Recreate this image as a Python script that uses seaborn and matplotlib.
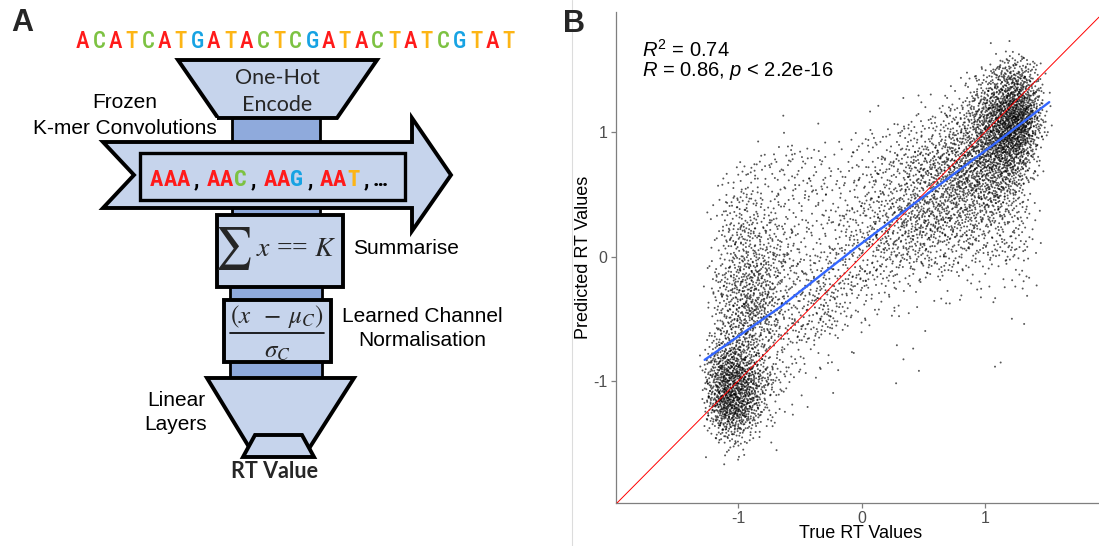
import numpy as np
import pandas as pd
import matplotlib
matplotlib.use("Agg")
import matplotlib.pyplot as plt
import seaborn as sns
from matplotlib.patches import Polygon, Rectangle
from matplotlib.lines import Line2D
from matplotlib import font_manager as fm

# ---------------- data ----------------
dna_sequence = "ACATCATGATACTCGATACTATCGTAT"
kmer_words = ["AAA", "AAC", "AAG", "AAT"]
base_colours = {"A": "#FF1A1A", "C": "#7DC242", "G": "#17A3E3", "T": "#FDB515"}

# Panel B: point density, one digit per 0.1 x 0.1 cell
# (columns: true RT -1.35 .. 1.55, rows: predicted RT 1.8 down to -1.8)
density_x_start = -1.35
density_y_start = 1.8
density_cell = 0.1
density_rows = [
    "0000000000 0000000000 000000000",
    "0000000000 0000000000 000012100",
    "0000000000 0000000000 000134420",
    "0000000000 0000000000 012356640",
    "0000000000 0000000000 113467751",
    "0000000000 0000000111 224678861",
    "0000000100 0001011122 335689962",
    "0000000001 0001112223 345789962",
    "0000000111 1111222333 456789851",
    "0000111221 1112223344 556788740",
    "0001222222 2122233445 566777630",
    "0012222222 2222333455 666666520",
    "0122322222 2222333445 566665410",
    "0123322222 2223334455 555554310",
    "0123333222 2233344555 555444310",
    "0134433222 2233444555 444443310",
    "0134433322 2233444444 444333310",
    "0134444322 2333344443 333333210",
    "0234544332 3333333333 322222210",
    "0244554333 3333332222 222111210",
    "0245554333 4333222211 111111110",
    "0245654333 4322221111 110110100",
    "0245654333 4322111100 100010100",
    "0245554333 3211101010 000000100",
    "0355543332 2111010000 000000000",
    "1466543222 1111000100 000000000",
    "1577643221 1100001100 000010000",
    "1688753211 1100001000 000010000",
    "1688753211 0100000000 000000000",
    "1698742110 0000000000 000000000",
    "0588632100 0000000000 000000000",
    "0466421100 0000000000 000000000",
    "0244311000 0000000000 000000000",
    "0122101000 0000000000 000000000",
    "0011000000 0000000000 000000000",
    "0000000000 0000000000 000000000",
]
level_counts = [0, 1, 4, 8, 14, 22, 33, 47, 64, 88]

fit_x = [-1.27, -0.65, -0.06, 0.46, 1.07, 1.52]
fit_y = [-0.83, -0.40, 0.06, 0.45, 0.90, 1.24]

stat_r2 = "0.74"
stat_r = "0.86"
stat_p = "2.2e-16"
x_ticks = [-1, 0, 1]
y_ticks = [-1, 0, 1]


# ---------------- build point table ----------------
def radical_inverse(i, base):
    f, r = 1.0, 0.0
    while i > 0:
        f /= base
        r += f * (i % base)
        i //= base
    return r


def tent(u):
    # spreads a cell's points over a tent two cells wide, so that
    # neighbouring cells blend smoothly instead of showing cell edges
    return -0.5 + np.sqrt(2 * u) if u < 0.5 else 1.5 - np.sqrt(2 * (1 - u))


xs, ys = [], []
cell_id = 0
for r, row in enumerate(density_rows):
    row = row.replace(" ", "")
    y_lo = density_y_start - (r + 1) * density_cell
    for c, ch in enumerate(row):
        n = level_counts[int(ch)]
        x_lo = density_x_start + c * density_cell
        cell_id += 1
        start = cell_id * 257 + 7
        for k in range(n):
            idx = start + 31 * k
            u = (radical_inverse(idx, 2) + cell_id * 0.6180339887) % 1.0
            v = (radical_inverse(idx, 3) + cell_id * 0.4142135624) % 1.0
            xs.append(x_lo + tent(u) * density_cell)
            ys.append(y_lo + tent(v) * density_cell)
points = pd.DataFrame({"True RT Values": xs, "Predicted RT Values": ys})
fit = pd.DataFrame({"x": fit_x, "y": fit_y})

# ---------------- style ----------------
sns.set_theme(style="white")
plt.rcParams["font.family"] = ["Liberation Sans", "DejaVu Sans"]
plt.rcParams["axes.unicode_minus"] = False
plt.rcParams["mathtext.fontset"] = "custom"
plt.rcParams["mathtext.rm"] = "Liberation Sans"
plt.rcParams["mathtext.it"] = "Liberation Sans:italic"

names = {f.name for f in fm.fontManager.ttflist}
narrow = next((n for n in ["Roboto Condensed", "Liberation Sans Narrow",
                           "Open Sans Condensed"] if n in names), None)

W, H = 1099, 546
fig = plt.figure(figsize=(W / 100, H / 100), dpi=100)

# ---------------- panel A (diagram) ----------------
axA = fig.add_axes([0, 0, 570 / W, 1])
axA.set_xlim(0, 570)
axA.set_ylim(H, 0)
axA.axis("off")

LIGHT = "#C6D4EC"
DARK = "#8FAADC"


def poly(pts, fc=LIGHT, lw=2.8, z=2):
    axA.add_patch(Polygon(pts, closed=True, fc=fc, ec="black", lw=lw,
                          joinstyle="miter", zorder=z))


def rect(x0, y0, x1, y1, fc=LIGHT, lw=2.8, z=2):
    axA.add_patch(Rectangle((x0, y0), x1 - x0, y1 - y0, fc=fc, ec="black",
                            lw=lw, joinstyle="miter", zorder=z))


# connectors
rect(232, 116, 320, 144, fc=DARK, lw=2.0, z=1)
rect(232, 206, 320, 217, fc=DARK, lw=2.0, z=1)
rect(230, 285, 322, 301, fc=DARK, lw=2.0, z=1)
rect(230, 360, 322, 379, fc=DARK, lw=2.0, z=1)

# top trapezoid
poly([(178, 60), (377, 60), (337, 118), (218, 118)])
# big arrow
poly([(103, 142), (412, 142), (412, 118), (451, 175), (412, 231),
      (412, 208), (103, 208), (134, 175)], z=3)
rect(140, 153, 405, 200, lw=2.4, z=4)
# summarise box
rect(217, 215, 343, 287, z=3)
# normalisation box
rect(224, 300, 331, 362, z=3)
# bottom trapezoid + output
poly([(207, 378), (354, 378), (310, 447), (249, 447)], z=3)
poly([(255, 435), (302, 435), (314, 457), (243, 457)], z=4)

# DNA sequence
seq_font = narrow if narrow else "Roboto"
for i, base in enumerate(dna_sequence):
    axA.text(82.5 + i * 16.4, 48, base, color=base_colours[base],
             fontsize=16.5, family=seq_font, ha="center", va="baseline",
             fontweight="medium", zorder=5)

# k-mers
kmer_font = narrow if narrow else "Roboto"
kfs = 16 if narrow else 15
xpos = 156.7
for w_i, word in enumerate(kmer_words):
    for ch in word:
        axA.text(xpos, 186, ch, color=base_colours[ch], fontsize=kfs,
                 family=kmer_font, fontweight="bold", ha="center",
                 va="baseline", zorder=6)
        xpos += 13.3
    axA.text(xpos + 0.2, 186, ",", color="black", fontsize=kfs,
             family=kmer_font, fontweight="bold", ha="center",
             va="baseline", zorder=6)
    xpos += 16.7
axA.text(xpos - 3, 186, "\u2026", color="black", fontsize=kfs,
         family=kmer_font, fontweight="bold", ha="center", va="baseline",
         zorder=6)

# labels in the diagram
lab = dict(fontsize=15, family="Liberation Sans", color="black", zorder=6)
axA.text(277, 78, "One-Hot", ha="center", va="center", family="Lato",
         fontsize=15.5, zorder=6)
axA.text(277, 105, "Encode", ha="center", va="center", family="Lato",
         fontsize=15.5, zorder=6)
axA.text(124.5, 103, "Frozen", ha="center", va="center", **lab)
axA.text(124.5, 128, "K-mer Convolutions", ha="center", va="center",
         bbox=dict(fc="white", ec="none", pad=0.5), **lab)
axA.text(406, 249, "Summarise", ha="center", va="center", **lab)
axA.text(422, 316, "Learned Channel", ha="center", va="center", **lab)
axA.text(422.5, 341, "Normalisation", ha="center", va="center", **lab)
axA.text(176, 400, "Linear", ha="center", va="center", **lab)
axA.text(176, 425, "Layers", ha="center", va="center", **lab)
axA.text(274.5, 472, "RT Value", ha="center", va="center", family="Lato",
         fontsize=15.5, fontweight="bold", zorder=6)

# math
axA.text(232.5, 248, r"$\sum$", ha="center", va="center", fontsize=30,
         math_fontfamily="stix", zorder=6)
axA.text(296, 250, r"$x$ == $K$", ha="center", va="center", fontsize=20,
         family="Liberation Serif", math_fontfamily="stix", zorder=6)
axA.text(277, 317, r"$(x\;\;-\;\mu_C)$", ha="center", va="center",
         fontsize=18, math_fontfamily="stix", zorder=6)
axA.plot([230, 324], [333, 333], color="black", lw=1.2, zorder=6)
axA.text(277, 351, r"$\sigma_C$", ha="center", va="center", fontsize=18,
         math_fontfamily="stix", zorder=6)

# ---------------- panel B (scatter) ----------------
axB = fig.add_axes([616 / W, (H - 503) / H, (W - 616) / W, (503 - 12) / H])
sns.scatterplot(data=points, x="True RT Values", y="Predicted RT Values",
                ax=axB, s=2.0, color="black", alpha=0.66, linewidth=0,
                edgecolor="none")
axB.axline((0, 0), slope=1, color="#FF0000", lw=0.7, zorder=3)
sns.lineplot(data=fit, x="x", y="y", ax=axB, color="#3366FF", lw=1.7,
             sort=False, zorder=4)

axB.set_xlim(-1.988, 1.923)
axB.set_ylim(-1.98, 1.964)
axB.set_xticks(x_ticks)
axB.set_yticks(y_ticks)
axB.set_xticklabels([str(t) for t in x_ticks])
axB.set_yticklabels([str(t) for t in y_ticks])
sns.despine(ax=axB)
for sp in ("left", "bottom"):
    axB.spines[sp].set_color("#7F7F7F")
    axB.spines[sp].set_linewidth(0.9)
axB.tick_params(axis="both", which="major", direction="out", length=3.5,
                width=0.9, color="#7F7F7F", labelcolor="#4D4D4D",
                labelsize=11.5, pad=2.5, bottom=True, left=True)
axB.set_xlabel("True RT Values", fontsize=13, color="black", va="center")
axB.set_ylabel("Predicted RT Values", fontsize=13, color="black",
               va="center")
axB.xaxis.set_label_coords((861 - 616) / (W - 616), -(534 - 503) / 491)
axB.yaxis.set_label_coords(-(616 - 583) / (W - 616), 0.5)

axB.text(-1.78, 1.66, r"$R^2$ = " + stat_r2, fontsize=14.5, ha="left",
         va="center", color="black")
axB.text(-1.78, 1.49, r"$R$ = " + stat_r + r", $p$ < " + stat_p,
         fontsize=14.5, ha="left", va="center", color="black")

# ---------------- panel letters & separator ----------------
fig.text(22.5 / W, 1 - 23 / H, "A", fontsize=22, fontweight="bold",
         ha="center", va="center")
fig.text(574 / W, 1 - 24 / H, "B", fontsize=22, fontweight="bold",
         ha="center", va="center")
fig.add_artist(Line2D([572 / W, 572 / W], [0, 1], color="#DCDCDC", lw=0.8))

fig.savefig("out.png", dpi=100)
